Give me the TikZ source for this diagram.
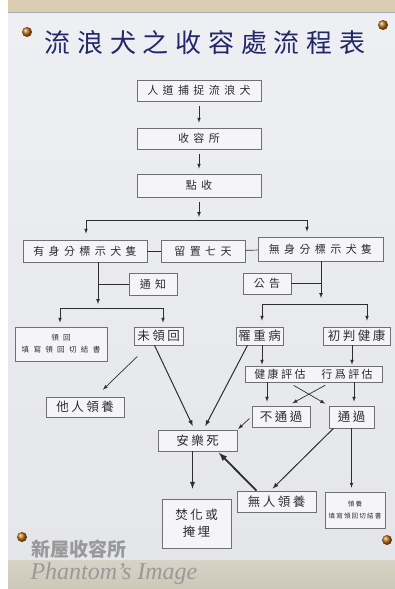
\documentclass[tikz,border=0pt]{standalone}
\usepackage{fontspec}
\newfontfamily\cjk{Noto Sans CJK TC}
\setmainfont{Liberation Serif}

\definecolor{ink}{RGB}{45,45,50}
\definecolor{titleink}{RGB}{35,38,105}
\definecolor{boxline}{RGB}{112,112,115}
\definecolor{boardtop}{RGB}{238,239,242}
\definecolor{boardbot}{RGB}{229,230,233}
\definecolor{band}{RGB}{218,206,178}
\definecolor{floor}{RGB}{205,200,184}
\definecolor{brass}{RGB}{190,110,20}

\begin{document}
\begin{tikzpicture}[x=1pt,y=-1pt,
  box/.style={draw=boxline, line width=0.7pt, fill=boardtop!60!white, text=ink,
    inner sep=0pt, align=center},
  big/.style={font=\cjk\fontsize{11}{13}\selectfont\addfontfeature{LetterSpace=40}},
  mid/.style={font=\cjk\fontsize{12.5}{15}\selectfont\addfontfeature{LetterSpace=20}},
  tiny/.style={font=\cjk\fontsize{7.5}{12}\selectfont\addfontfeature{LetterSpace=58}},
  arr/.style={-latex, draw=ink, line width=0.7pt, shorten <=5pt, shorten >=5pt},
  link/.style={draw=ink, line width=0.7pt},
  screw/.style={circle, inner sep=0pt, minimum size=10pt, ball color=brass}]

  \useasboundingbox (0,0) rectangle (395,589);

  % board
  \fill[white] (0,0) rectangle (395,589);
  \fill[band] (8,0) rectangle (395,12);
  \shade[top color=boardtop, bottom color=boardbot] (8,12) rectangle (395,560);
  \draw[boxline!60, line width=0.6pt] (8,12) -- (395,12);
  \shade[top color=floor!80!white, bottom color=floor] (8,560) rectangle (395,589);

  \node[screw] (s1) at (27,32) {};
  \node[screw] (s2) at (383,25) {};
  \node[screw] (s3) at (22,537) {};
  \node[screw] (s4) at (387,540) {};

  % title
  \node[text=titleink, font=\cjk\fontsize{26}{28}\selectfont\addfontfeature{LetterSpace=26}]
    (title) at (205,43) {流浪犬之收容處流程表};

  % boxes
  \node[box, big, minimum width=124, minimum height=21] (catch) at (199,90.5) {人道捕捉流浪犬};
  \node[box, big, minimum width=124, minimum height=21] (shelter) at (199,138.5) {收容所};
  \node[box, big, minimum width=124, minimum height=23] (check) at (199,185.5) {點收};
  \node[box, big, minimum width=124, minimum height=22] (tagged) at (85,251) {有身分標示犬隻};
  \node[box, big, minimum width=84, minimum height=22] (hold) at (203,251) {留置七天};
  \node[box, big, minimum width=125, minimum height=24] (untag) at (320.5,249) {無身分標示犬隻};
  \node[box, big, minimum width=48, minimum height=22] (notify) at (153,284) {通知};
  \node[box, big, minimum width=48, minimum height=21] (announce) at (267,283.5) {公告};

  \node[box, tiny, minimum width=92, minimum height=34] (claimed) at (61,344) {領回\\填寫領回切結書};
  \node[box, mid, minimum width=49, minimum height=18] (unclaimed) at (158.5,336) {未領回};
  \node[box, mid, minimum width=47, minimum height=18] (sick) at (259.5,336) {罹重病};
  \node[box, mid, minimum width=67, minimum height=18] (healthy) at (356.5,336) {初判健康};
  \node[box, big, minimum width=137, minimum height=16,
    font=\cjk\fontsize{11}{13}\selectfont\addfontfeature{LetterSpace=22}]
    (assess) at (313.5,374) {健康評估　行爲評估};

  \node[box, mid, minimum width=78, minimum height=20] (adopted) at (85,407) {他人領養};
  \node[box, mid, minimum width=58, minimum height=21] (fail) at (281,416.5) {不通過};
  \node[box, mid, minimum width=45, minimum height=22] (pass) at (351.5,417) {通過};
  \node[box, mid, minimum width=79, minimum height=21] (euth) at (197.5,440.5) {安樂死};
  \node[box, mid, minimum width=69, minimum height=49,
    font=\cjk\fontsize{12.5}{17}\selectfont\addfontfeature{LetterSpace=20}]
    (cremate) at (196.5,523.5) {焚化或\\掩埋};
  \node[box, mid, minimum width=79, minimum height=21] (noowner) at (276.5,501.5) {無人領養};
  \node[box, minimum width=60, minimum height=36,
    font=\cjk\fontsize{6.5}{12}\selectfont\addfontfeature{LetterSpace=18}]
    (adopt) at (355,510) {領養\\填寫領回切結書};

  % top chain
  \draw[arr] (catch) -- (shelter);
  \draw[arr] (shelter) -- (check);
  \coordinate (split) at (199,220);
  \coordinate (bl) at (86,220);
  \coordinate (br) at (307,220);
  \draw[arr, shorten >=3pt] (check) -- (split);
  \draw[link] (bl) -- (br);
  \draw[arr, shorten <=0pt, shorten >=6pt] (bl) -- (bl |- tagged.north);
  \draw[arr, shorten <=0pt, shorten >=5pt] (br) -- (br |- untag.north);
  \draw[link] (tagged) -- (hold);
  \draw[link] (hold) -- (untag);

  % with tag
  \coordinate (lj) at (98,308);
  \coordinate (la) at (60,308);
  \coordinate (lb) at (163,308);
  \draw[arr, shorten <=0pt, shorten >=4pt] (tagged.south -| lj) -- (lj);
  \draw[link] (notify.west) -- (notify.west -| lj);
  \draw[link] (la) -- (lb);
  \draw[arr, shorten <=0pt, shorten >=4pt] (la) -- (la |- claimed.north);
  \draw[arr, shorten <=0pt, shorten >=4pt] (lb) -- (lb |- unclaimed.north);

  % without tag
  \coordinate (rj) at (321,304);
  \coordinate (ra) at (262,304);
  \coordinate (rb) at (367,304);
  \draw[arr, shorten <=0pt, shorten >=6pt] (untag.south -| rj) -- (rj);
  \draw[link] (announce.east) -- (announce.east -| rj);
  \draw[link] (ra) -- (rb);
  \draw[arr, shorten <=0pt, shorten >=6pt] (ra) -- (ra |- sick.north);
  \draw[arr, shorten <=0pt, shorten >=6pt] (rb) -- (rb |- healthy.north);

  % lower part
  \draw[arr, shorten <=16pt, shorten >=10pt] (unclaimed) -- (adopted);
  \draw[arr, line width=1pt, shorten <=0pt, shorten >=4pt]
    ([xshift=-4pt]unclaimed.south) -- ([xshift=-3pt]euth.north);
  \draw[arr, line width=1pt, shorten <=0pt, shorten >=4pt]
    ([xshift=-12pt]sick.south) -- ([xshift=6pt]euth.north);
  \draw[arr, shorten <=0pt, shorten >=1pt] ([xshift=2.5pt]sick.south) -- ([xshift=2.5pt]sick.south |- assess.north);
  \draw[arr, shorten <=0pt, shorten >=1pt] ([xshift=-4.5pt]healthy.south) -- ([xshift=-4.5pt]healthy.south |- assess.north);

  \coordinate (ca) at (267,0);
  \draw[arr, shorten <=0pt, shorten >=4pt] (assess.south -| ca) -- (fail.north -| ca);
  \draw[arr, shorten <=0pt, shorten >=4pt] ([xshift=2.5pt]pass.north |- assess.south) -- ([xshift=2.5pt]pass.north);
  \draw[arr, shorten <=6pt, shorten >=4pt] ([xshift=-25pt]assess.south) -- (pass.north west);
  \draw[arr, shorten <=6pt, shorten >=5pt] ([xshift=17pt]assess.south) -- ([xshift=7pt]fail.north);
  \draw[arr, shorten <=3pt, shorten >=1pt] (fail.west) -- (euth.north east);

  \draw[arr, line width=1pt, shorten <=0pt, shorten >=3pt]
    ([xshift=-18pt]pass.south) -- ([xshift=-6pt]noowner.north);
  \draw[arr, shorten <=0pt, shorten >=4pt] (pass.south) -- (pass.south |- adopt.north);
  \draw[arr, line width=1.8pt, shorten <=0pt, shorten >=2pt]
    ([xshift=-20pt]noowner.north) -- ([xshift=20pt]euth.south);
  \draw[arr, line width=1.3pt, shorten <=0pt, shorten >=10pt]
    ([xshift=-5pt]euth.south) -- ([xshift=-5pt]euth.south |- cremate.north);

  % watermark
  \node[text=black!40, font=\cjk\bfseries\fontsize{19}{20}\selectfont, anchor=west]
    (mark1) at (28,549) {新屋收容所};
  \node[text=black!40, font=\itshape\fontsize{24}{26}\selectfont, anchor=west]
    (mark2) at (27,574) {Phantom's Image};

\end{tikzpicture}
\end{document}
